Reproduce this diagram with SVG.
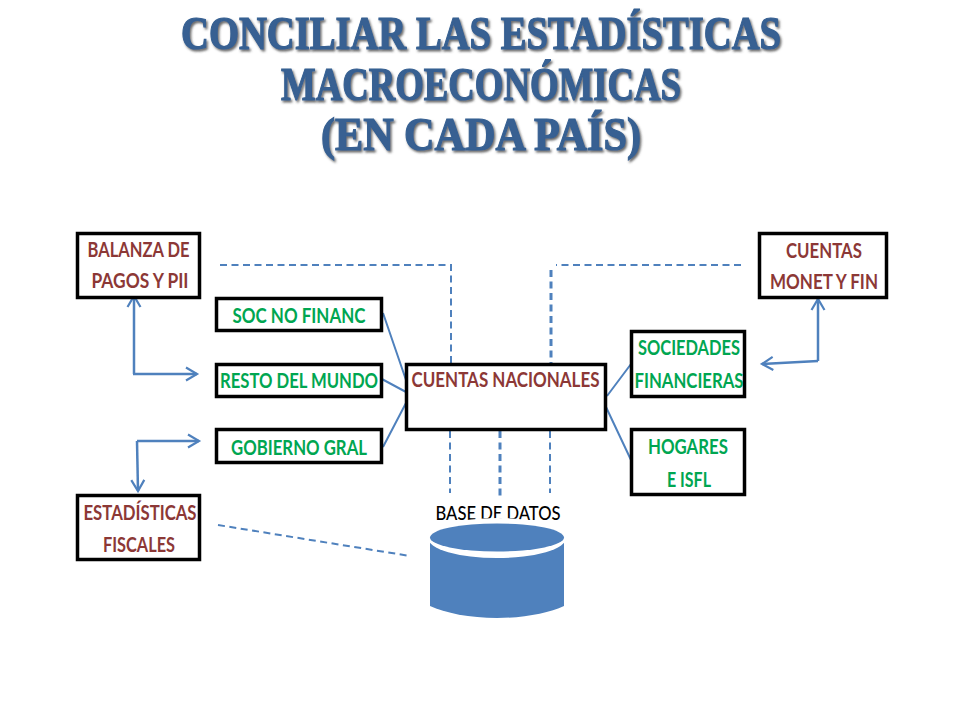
<svg xmlns="http://www.w3.org/2000/svg" width="960" height="720" viewBox="0 0 960 720">
<defs>
<filter id="sh" x="-5%" y="-20%" width="110%" height="140%"><feDropShadow dx="1.500" dy="2" stdDeviation="1" flood-color="#444" flood-opacity="0.8"/></filter>
<marker id="ah" markerUnits="userSpaceOnUse" markerWidth="16" markerHeight="16" refX="13" refY="8" orient="auto-start-reverse"><path d="M2 1.5L13 8L2 14.5" fill="none" stroke="#4f81bd" stroke-width="2.200"/></marker>
</defs>
<style>
.t{font-family:"Liberation Serif",serif;font-weight:700;font-size:47px;fill:#376092;stroke:#376092;stroke-width:1.200;text-anchor:middle;filter:url(#sh)}
.b{fill:#fff;stroke:#000;stroke-width:3.500}
.l{font-family:Lato,"Liberation Sans",sans-serif;font-weight:700;font-size:20px;text-anchor:middle}
.r{fill:#8c3836}.g{fill:#00a651}
.s{fill:none;stroke:#4f81bd;stroke-width:2}
.a{fill:none;stroke:#4f81bd;stroke-width:2.500;marker-end:url(#ah)}
.d{fill:none;stroke:#4f81bd;stroke-width:2;stroke-dasharray:7 4.500}
.h{stroke-width:3}
</style>
<rect width="960" height="720" fill="#fff"/>
<g id="title">
<text class="t" x="481" y="49" textLength="600" lengthAdjust="spacingAndGlyphs">CONCILIAR LAS ESTADÍSTICAS</text>
<text class="t" x="481" y="100" textLength="400" lengthAdjust="spacingAndGlyphs">MACROECONÓMICAS</text>
<text class="t" x="481" y="150" textLength="320" lengthAdjust="spacingAndGlyphs">(EN CADA PAÍS)</text>
</g>
<g id="connectors">
<path class="d" d="M220 265H451V363"/>
<path class="d" d="M741 265H556"/>
<path class="d h" d="M551 270V363"/>
<path class="d" d="M450 431V493M550 431V493"/>
<path class="d h" d="M500 431V500"/>
<path class="d" d="M218 525L410 556"/>
<path class="s" d="M383 313L406 380M380 378L406 392M383 447L406 403"/>
<path class="s" d="M607 396L631 364M606 407L631 460"/>
<path class="a" d="M134 374V296"/>
<path class="a" d="M133 374H197"/>
<path class="a" d="M137 441H199"/>
<path class="a" d="M137 441L138 491"/>
<path class="a" d="M818 361V299"/>
<path class="a" d="M818 361L762 364"/>
</g>
<g id="balanza"><rect class="b" x="77.500" y="233.500" width="122" height="64"/><text class="l r" x="138.500" y="257" textLength="102" lengthAdjust="spacingAndGlyphs">BALANZA DE</text><text class="l r" x="140" y="288" textLength="97" lengthAdjust="spacingAndGlyphs">PAGOS Y PII</text></g>
<g id="soc"><rect class="b" x="216.500" y="298.500" width="165" height="32"/><text class="l g" x="299" y="323" textLength="133" lengthAdjust="spacingAndGlyphs">SOC NO FINANC</text></g>
<g id="resto"><rect class="b" x="216.500" y="364.500" width="165" height="32"/><text class="l g" x="299" y="388" textLength="158" lengthAdjust="spacingAndGlyphs">RESTO DEL MUNDO</text></g>
<g id="gobierno"><rect class="b" x="216.500" y="429.500" width="165" height="33"/><text class="l g" x="299" y="455" textLength="136" lengthAdjust="spacingAndGlyphs">GOBIERNO GRAL</text></g>
<g id="estadisticas"><rect class="b" x="77.500" y="495.500" width="122" height="64"/><text class="l r" x="140" y="520" textLength="113" lengthAdjust="spacingAndGlyphs">ESTADÍSTICAS</text><text class="l r" x="139" y="552" textLength="72" lengthAdjust="spacingAndGlyphs">FISCALES</text></g>
<g id="nacionales"><rect class="b" x="406.500" y="364.500" width="199" height="65"/><text class="l r" x="505.500" y="387" textLength="188" lengthAdjust="spacingAndGlyphs">CUENTAS NACIONALES</text></g>
<g id="sociedades"><rect class="b" x="631.500" y="331.500" width="113" height="65"/><text class="l g" x="689" y="355" textLength="102" lengthAdjust="spacingAndGlyphs">SOCIEDADES</text><text class="l g" x="689" y="388" textLength="109" lengthAdjust="spacingAndGlyphs">FINANCIERAS</text></g>
<g id="hogares"><rect class="b" x="631.500" y="429.500" width="113" height="65"/><text class="l g" x="688" y="454" textLength="80" lengthAdjust="spacingAndGlyphs">HOGARES</text><text class="l g" x="689" y="487" textLength="44" lengthAdjust="spacingAndGlyphs">E ISFL</text></g>
<g id="monet"><rect class="b" x="759.500" y="233.500" width="127" height="64"/><text class="l r" x="824" y="258" textLength="76" lengthAdjust="spacingAndGlyphs">CUENTAS</text><text class="l r" x="824" y="289" textLength="108" lengthAdjust="spacingAndGlyphs">MONET Y FIN</text></g>
<g id="base">
<text x="498" y="520" font-family="Lato,'Liberation Sans',sans-serif" font-size="19" font-weight="500" text-anchor="middle" textLength="125" lengthAdjust="spacingAndGlyphs" fill="#000">BASE DE DATOS</text>
<path d="M430 543V606C445 613 470 618 497 618C524 618 549 613 564 606V543Z" fill="#4f81bd"/>
<ellipse cx="497" cy="538" rx="69" ry="20" fill="#fff"/>
<ellipse cx="497" cy="537.500" rx="67" ry="14" fill="#4f81bd"/>
</g>
</svg>
